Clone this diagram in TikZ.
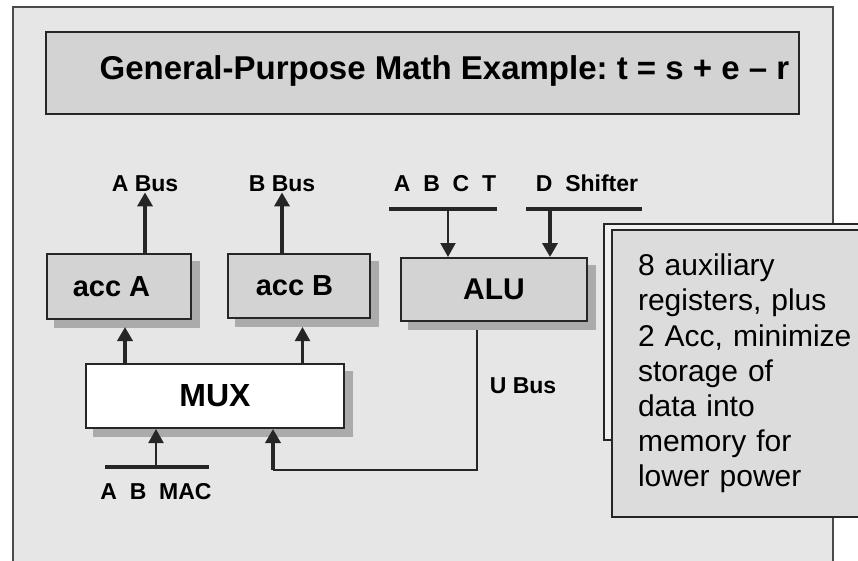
\documentclass[tikz,border=0pt]{standalone}
\usepackage{fontspec}
\setmainfont{Liberation Sans}
\usetikzlibrary{arrows.meta,calc,backgrounds}
\definecolor{panelc}{HTML}{E6E6E6}
\definecolor{panelline}{HTML}{4A4A4A}
\definecolor{linec}{HTML}{262626}
\definecolor{boxc}{HTML}{D3D3D3}
\definecolor{shadowc}{HTML}{ABABAB}
\definecolor{notec}{HTML}{DCDCDC}
\definecolor{backc}{HTML}{F0F0F0}
\frenchspacing
\begin{document}
\begin{tikzpicture}[x=1pt,y=-1pt,
  lbl/.style={font=\fontsize{23}{27}\selectfont\bfseries, inner sep=0pt, anchor=base},
  boxtxt/.style={font=\fontsize{29}{33}\selectfont\bfseries},
  box/.style={draw=linec, line width=2pt, fill=boxc, inner sep=0pt},
  thickln/.style={draw=linec, line width=3.8pt},
  thinln/.style={draw=linec, line width=2.2pt},
  tip/.style={-{Triangle[length=14pt,width=15pt]}},
  bar/.style={draw=linec, line width=3.8pt},
]
\useasboundingbox (0,0) rectangle (858,561);
\clip (0,0) rectangle (858,561);

% title box
\node[box, minimum width=753pt, minimum height=82pt] (title) at (422.5,73) {};
\node[inner sep=0pt, anchor=base, font=\fontsize{33}{37}\selectfont\bfseries] (titletxt) at (444.5,80) {General-Purpose Math Example: t = s + e – r};

% blocks
\node[box, boxtxt, minimum width=144pt, minimum height=65pt] (acca) at (119,286.5) {acc A\hspace*{15pt}};
\node[box, boxtxt, minimum width=142pt, minimum height=64pt] (accb) at (299,286) {acc B\hspace*{9pt}};
\node[box, boxtxt, font=\fontsize{30}{34}\selectfont\bfseries, minimum width=186pt, minimum height=63pt] (alu) at (494,289.5) {ALU};
\node[box, fill=white, font=\fontsize{32}{36}\selectfont\bfseries, minimum width=258pt, minimum height=64pt] (mux) at (215,396) {MUX};

% note boxes
\node[draw=linec, line width=2pt, fill=backc, minimum width=276pt, minimum height=216pt] (noteback) at (742,332) {};
\node[draw=linec, line width=2pt, fill=notec, text width=216pt, inner xsep=26pt, inner ysep=24pt, align=left,
      font=\fontsize{30}{35.2}\selectfont] (note) at (746,373.5)
  {8 auxiliary\\registers, plus\\2 Acc, minimize\\storage of\\data into\\memory for\\lower power};

% labels
\node[lbl] (abus) at (145,192) {A Bus};
\node[lbl] (bbus) at (282,192) {B Bus};
\node[lbl] (abct) at (445,192) {A~~B~~C~~T};
\node[lbl] (dsh) at (587,192) {D~~Shifter};
\node[lbl] (abmac) at (156,499) {A~~B~~MAC};
\node[lbl] (ubus) at (523,393) {U Bus};

% bars
\coordinate (abctL) at (389,209);
\coordinate (abctR) at (497,209);
\coordinate (abctT) at (448,209);
\coordinate (dshL) at (526,209);
\coordinate (dshR) at (642,209);
\coordinate (dshT) at (550,209);
\coordinate (mabL) at (105,467);
\coordinate (mabR) at (209,467);
\coordinate (mabT) at (156,467);
\draw[bar] (abctL) -- (abctR);
\draw[bar] (dshL) -- (dshR);
\draw[bar] (mabL) -- (mabR);

% connectors
\draw[thickln,tip] (acca.north -| abus.south) -- (abus.south);
\draw[thickln,tip] (accb.north -| bbus.south) -- (bbus.south);
\draw[thinln,tip] (abctT) -- (abctT |- alu.north);
\draw[thickln,tip] (dshT) -- (dshT |- alu.north);
\draw[thinln,tip] (mabT) -- (mabT |- mux.south);
\coordinate (accaIn) at (125,327);
\coordinate (accbIn) at (302.5,327);
\draw[thickln,tip] (mux.north -| accaIn) -- (accaIn);
\draw[thinln,tip] (mux.north -| accbIn) -- (accbIn);
\coordinate (ubA) at (477,330);
\coordinate (ubB) at (477,470);
\coordinate (ubC) at (273,470);
\draw[thinln] (ubA) -- (ubB) -- (ubC);
\draw[thickln,tip] (ubC) -- (ubC |- mux.south);

% background: panel and shadows
\begin{scope}[on background layer]
  \draw[draw=panelline, line width=2pt, fill=panelc] (13,7.5) rectangle (833,600);
  \foreach \n in {acca,accb,alu,mux}
    \fill[shadowc] ($(\n.south west)+(8,8)$) rectangle ($(\n.north east)+(8,8)$);
\end{scope}
\end{tikzpicture}
\end{document}
